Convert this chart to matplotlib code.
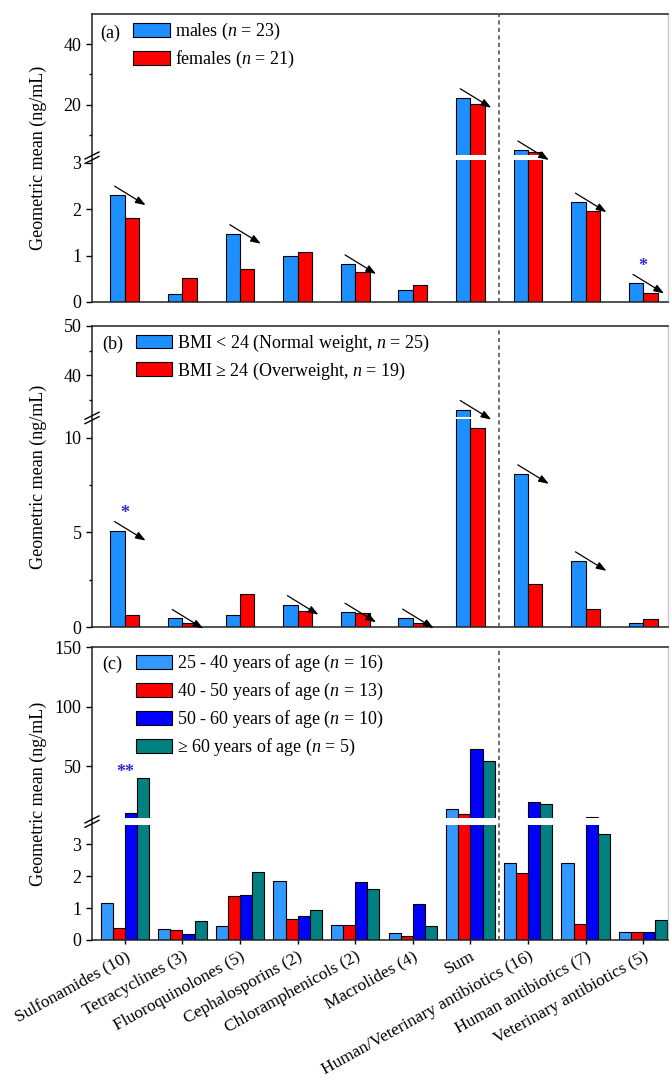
import numpy as np
import matplotlib
matplotlib.use("Agg")
import matplotlib.pyplot as plt
from matplotlib.patches import Rectangle
from matplotlib.transforms import offset_copy

plt.rcParams["font.family"] = ["Liberation Serif", "DejaVu Serif"]
plt.rcParams["mathtext.fontset"] = "custom"
plt.rcParams["mathtext.rm"] = "Liberation Serif"
plt.rcParams["mathtext.it"] = "Liberation Serif:italic"

categories = ["Sulfonamides (10)", "Tetracyclines (3)", "Fluoroquinolones (5)",
              "Cephalosporins (2)", "Chloramphenicols (2)", "Macrolides (4)", "Sum",
              "Human/Veterinary antibiotics (16)", "Human antibiotics (7)",
              "Veterinary antibiotics (5)"]

# (a) sex
males = [2.3, 0.18, 1.47, 0.99, 0.82, 0.25, 22.3, 5.0, 2.15, 0.40]
females = [1.8, 0.52, 0.72, 1.08, 0.65, 0.37, 20.3, 4.4, 1.95, 0.20]
# (b) BMI
bmi_normal = [5.1, 0.45, 0.62, 1.18, 0.78, 0.47, 33.0, 8.1, 3.5, 0.22]
bmi_over = [0.62, 0.20, 1.72, 0.87, 0.73, 0.22, 10.5, 2.3, 0.93, 0.42]
# (c) age
age_25_40 = [1.15, 0.34, 0.44, 1.83, 0.46, 0.22, 14.0, 2.4, 2.42, 0.25]
age_40_50 = [0.38, 0.32, 1.38, 0.66, 0.46, 0.12, 10.0, 2.1, 0.50, 0.24]
age_50_60 = [10.5, 0.19, 1.40, 0.75, 1.80, 1.13, 64.0, 20.0, 7.5, 0.24]
age_60 = [40.0, 0.60, 2.13, 0.94, 1.58, 0.44, 54.0, 18.0, 3.3, 0.62]

arrows_a = [0, 2, 4, 6, 7, 8, 9]
arrows_b = [0, 1, 3, 4, 5, 6, 7, 8]

BLUE = "#1E8FFF"
LBLUE = "#3399FF"
RED = "#FF0000"
DBLUE = "#0000FF"
TEAL = "#008080"

W, H = 670, 1083
fig = plt.figure(figsize=(W / 100, H / 100), dpi=100)


def px_axes(top, bottom, left=92, right=668):
    return fig.add_axes([left / W, 1 - bottom / H, (right - left) / W, (bottom - top) / H])


def broken_scale(ax, vals, fracs):
    vals = np.array(vals, float)
    fracs = np.array(fracs, float)
    ax.set_yscale("function", functions=(lambda v: np.interp(v, vals, fracs),
                                         lambda f: np.interp(f, fracs, vals)))
    ax.set_ylim(vals[0], vals[-1])
    # white gap across the bars
    ax.add_patch(Rectangle((0.002, fracs[1]), 0.996, fracs[2] - fracs[1],
                           transform=ax.transAxes, facecolor="white", edgecolor="none",
                           zorder=3))
    # break marks on the left axis
    pos = ax.get_position()
    hpx = pos.height * H
    wpx = pos.width * W
    mid = (fracs[1] + fracs[2]) / 2
    dx = 7 / wpx
    dy = 3.5 / hpx
    for off in (-2.2 / hpx, 2.2 / hpx):
        ax.plot([-dx, dx], [mid + off - dy, mid + off + dy], color="black", lw=1.0,
                transform=ax.transAxes, clip_on=False, zorder=6)


def style(ax, xt=False):
    x = np.arange(len(categories))
    ax.set_xlim(-0.57, 9.43)
    ax.set_xticks(x)
    if xt:
        ax.set_xticklabels(categories, rotation=29, ha="right", va="top",
                           rotation_mode="anchor", fontsize=12.5)
        ax.tick_params(axis="x", direction="out", length=3, width=1, pad=3)
    else:
        ax.set_xticklabels([])
        ax.tick_params(axis="x", length=0)
    ax.tick_params(axis="y", direction="out", length=4, width=1, labelsize=13)
    ax.tick_params(axis="y", which="minor", direction="out", length=2.5, width=1)
    for s in ("left", "bottom", "top"):
        ax.spines[s].set_color("#222222")
        ax.spines[s].set_linewidth(1.1)
    ax.spines["right"].set_color("#c8c8c8")
    ax.spines["right"].set_linewidth(1.0)
    ax.axvline(6.5, color="#555555", lw=1.2, ls=(0, (2.5, 2)), zorder=4)
    ax.set_ylabel("Geometric mean (ng/mL)", fontsize=13)
    ax.yaxis.set_label_coords(-0.078, 0.5)


def arrow(ax, xc, v):
    tail = offset_copy(ax.transData, fig=fig, x=-3, y=9, units="dots")
    head = offset_copy(ax.transData, fig=fig, x=28, y=-10, units="dots")
    ax.annotate("", xy=(xc, v), xycoords=head, xytext=(xc, v), textcoords=tail,
                arrowprops=dict(arrowstyle="-|>,head_length=0.55,head_width=0.2",
                                color="black", lw=0.9, mutation_scale=11,
                                shrinkA=0, shrinkB=0), zorder=7)


def star(ax, xc, v, txt, dy):
    tr = offset_copy(ax.transData, fig=fig, x=0, y=dy, units="dots")
    ax.text(xc, v, txt, transform=tr, ha="center", va="center", color="#2a2ad8",
            fontsize=13, fontweight="bold", zorder=7)


x = np.arange(len(categories))
bw = 0.25
legend_kw = dict(loc="upper left", frameon=False, fontsize=13, handlelength=2.0,
                 handleheight=0.8, handletextpad=0.3, labelspacing=0.38,
                 borderpad=0, borderaxespad=0)

# ---- (a)
axa = px_axes(14, 302)
broken_scale(axa, [0, 3.05, 3.3, 50], [0, 0.492, 0.51, 1])
axa.bar(x - bw / 2, males, bw, color=BLUE, edgecolor="black", lw=0.8,
        label="males ($n$ = 23)", zorder=2)
axa.bar(x + bw / 2, females, bw, color=RED, edgecolor="black", lw=0.8,
        label="females ($n$ = 21)", zorder=2)
axa.set_yticks([0, 1, 2, 3, 20, 40])
axa.set_yticks([10, 30], minor=True)
axa.set_yticklabels(["0", "1", "2", "3", "20", "40"])
style(axa)
for i in arrows_a:
    arrow(axa, x[i] - bw / 2, males[i])
star(axa, x[9], males[9], "*", 17)
axa.text(0.014, 0.933, "(a)", transform=axa.transAxes, fontsize=13, va="center")
axa.legend(bbox_to_anchor=(0.072, 0.975), **legend_kw)

# ---- (b)
axb = px_axes(326, 627)
broken_scale(axb, [0, 11, 31.5, 50], [0, 0.691, 0.698, 1])
axb.bar(x - bw / 2, bmi_normal, bw, color=BLUE, edgecolor="black", lw=0.8,
        label="BMI < 24 (Normal weight, $n$ = 25)", zorder=2)
axb.bar(x + bw / 2, bmi_over, bw, color=RED, edgecolor="black", lw=0.8,
        label="BMI ≥ 24 (Overweight, $n$ = 19)", zorder=2)
axb.set_yticks([0, 5, 10, 40, 50])
axb.set_yticks([2.5, 7.5, 35, 45], minor=True)
axb.set_yticklabels(["0", "5", "10", "40", "50"])
style(axb)
for i in arrows_b:
    arrow(axb, x[i] - bw / 2, bmi_normal[i])
star(axb, x[0], bmi_normal[0], "*", 17)
axb.text(0.018, 0.94, "(b)", transform=axb.transAxes, fontsize=13, va="center")
axb.legend(bbox_to_anchor=(0.076, 0.978), **legend_kw)

# ---- (c)
axc = px_axes(647, 940)
broken_scale(axc, [0, 3.6, 6, 150], [0, 0.393, 0.415, 1])
cw = 0.21
groups = [(age_25_40, LBLUE, "25 - 40 years of age ($n$ = 16)"),
          (age_40_50, RED, "40 - 50 years of age ($n$ = 13)"),
          (age_50_60, DBLUE, "50 - 60 years of age ($n$ = 10)"),
          (age_60, TEAL, "≥ 60 years of age ($n$ = 5)")]
for k, (vals, col, lab) in enumerate(groups):
    axc.bar(x + (k - 1.5) * cw, vals, cw, color=col, edgecolor="black", lw=0.8,
            label=lab, zorder=2)
axc.set_yticks([0, 1, 2, 3, 50, 100, 150])
axc.set_yticklabels(["0", "1", "2", "3", "50", "100", "150"])
style(axc, xt=True)
star(axc, x[0], age_60[0], "**", 5)
axc.text(0.018, 0.942, "(c)", transform=axc.transAxes, fontsize=13, va="center")
axc.legend(bbox_to_anchor=(0.076, 0.98), **legend_kw)

fig.savefig("out.png", dpi=100)
